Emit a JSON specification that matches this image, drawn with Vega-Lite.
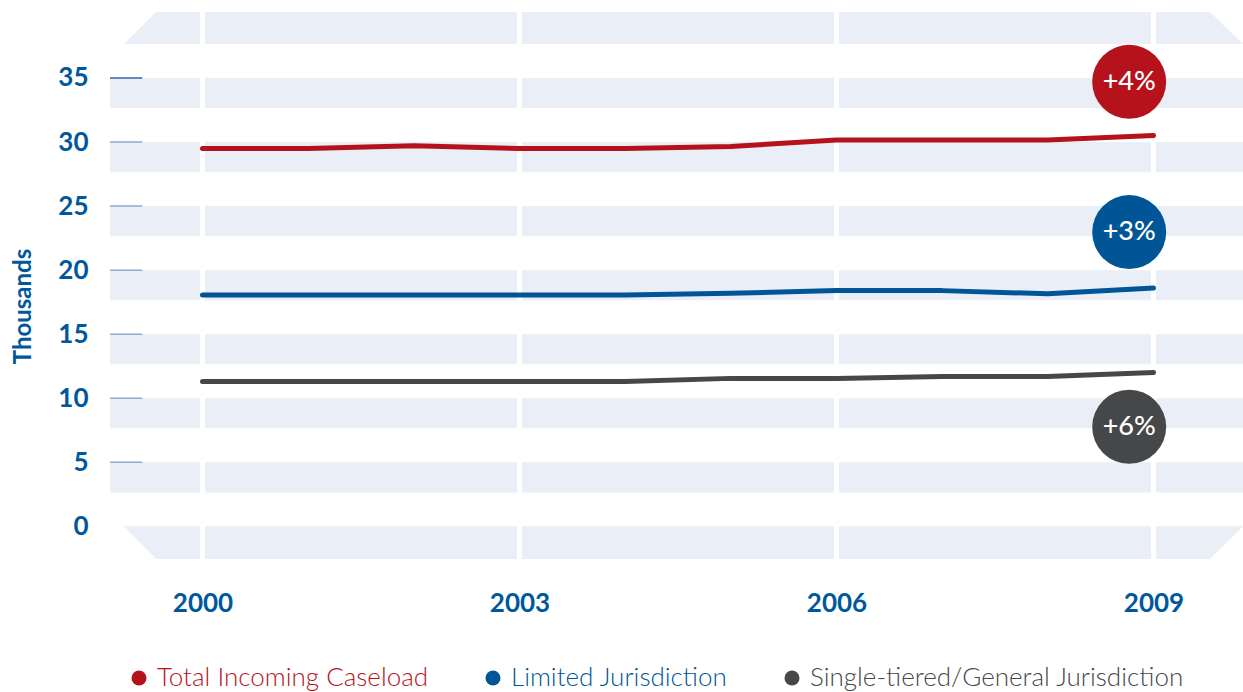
{
  "$schema": "https://vega.github.io/schema/vega-lite/v6.json",
  "width": 1133,
  "height": 547,
  "autosize": "none",
  "padding": {"left": 110, "top": 12, "right": 0, "bottom": 133},
  "background": "white",
  "config": {"view": {"stroke": null}, "font": "Lato"},
  "datasets": {
    "series": [
      {"year": 2000, "series": "Total Incoming Caseload", "value": 29.5},
      {"year": 2001, "series": "Total Incoming Caseload", "value": 29.5},
      {"year": 2002, "series": "Total Incoming Caseload", "value": 29.7},
      {"year": 2003, "series": "Total Incoming Caseload", "value": 29.5},
      {"year": 2004, "series": "Total Incoming Caseload", "value": 29.5},
      {"year": 2005, "series": "Total Incoming Caseload", "value": 29.65},
      {"year": 2006, "series": "Total Incoming Caseload", "value": 30.15},
      {"year": 2007, "series": "Total Incoming Caseload", "value": 30.15},
      {"year": 2008, "series": "Total Incoming Caseload", "value": 30.15},
      {"year": 2009, "series": "Total Incoming Caseload", "value": 30.5},
      {"year": 2000, "series": "Limited Jurisdiction", "value": 18.05},
      {"year": 2001, "series": "Limited Jurisdiction", "value": 18.05},
      {"year": 2002, "series": "Limited Jurisdiction", "value": 18.05},
      {"year": 2003, "series": "Limited Jurisdiction", "value": 18.05},
      {"year": 2004, "series": "Limited Jurisdiction", "value": 18.05},
      {"year": 2005, "series": "Limited Jurisdiction", "value": 18.2},
      {"year": 2006, "series": "Limited Jurisdiction", "value": 18.4},
      {"year": 2007, "series": "Limited Jurisdiction", "value": 18.4},
      {"year": 2008, "series": "Limited Jurisdiction", "value": 18.15},
      {"year": 2009, "series": "Limited Jurisdiction", "value": 18.6},
      {"year": 2000, "series": "Single-tiered/General Jurisdiction", "value": 11.3},
      {"year": 2001, "series": "Single-tiered/General Jurisdiction", "value": 11.3},
      {"year": 2002, "series": "Single-tiered/General Jurisdiction", "value": 11.3},
      {"year": 2003, "series": "Single-tiered/General Jurisdiction", "value": 11.3},
      {"year": 2004, "series": "Single-tiered/General Jurisdiction", "value": 11.3},
      {"year": 2005, "series": "Single-tiered/General Jurisdiction", "value": 11.55},
      {"year": 2006, "series": "Single-tiered/General Jurisdiction", "value": 11.55},
      {"year": 2007, "series": "Single-tiered/General Jurisdiction", "value": 11.7},
      {"year": 2008, "series": "Single-tiered/General Jurisdiction", "value": 11.7},
      {"year": 2009, "series": "Single-tiered/General Jurisdiction", "value": 12.0}
    ],
    "midBands": [
      {"band": "b35", "x0": 1999.1246, "x1": 2009.847, "lo": 32.65, "hi": 35},
      {"band": "b30", "x0": 1999.1246, "x1": 2009.847, "lo": 27.65, "hi": 30},
      {"band": "b25", "x0": 1999.1246, "x1": 2009.847, "lo": 22.65, "hi": 25},
      {"band": "b20", "x0": 1999.1246, "x1": 2009.847, "lo": 17.65, "hi": 20},
      {"band": "b15", "x0": 1999.1246, "x1": 2009.847, "lo": 12.65, "hi": 15},
      {"band": "b10", "x0": 1999.1246, "x1": 2009.847, "lo": 7.65, "hi": 10},
      {"band": "b05", "x0": 1999.1246, "x1": 2009.847, "lo": 2.65, "hi": 5}
    ],
    "edgeBands": [
      {"band": "b40", "x": 1999.257, "lo": 37.65, "hi": 37.65},
      {"band": "b40", "x": 1999.56, "lo": 37.65, "hi": 40.15},
      {"band": "b40", "x": 2009.535, "lo": 37.65, "hi": 40.15},
      {"band": "b40", "x": 2009.847, "lo": 37.65, "hi": 37.65},
      {"band": "b00", "x": 1999.257, "lo": 0, "hi": 0},
      {"band": "b00", "x": 1999.56, "lo": -2.55, "hi": 0},
      {"band": "b00", "x": 2009.535, "lo": -2.55, "hi": 0},
      {"band": "b00", "x": 2009.847, "lo": 0, "hi": 0}
    ],
    "gridYears": [{"year": 2000}, {"year": 2003}, {"year": 2006}, {"year": 2009}],
    "yticks": [{"v": 5}, {"v": 10}, {"v": 15}, {"v": 20}, {"v": 25}, {"v": 30}, {"v": 35}],
    "badges": [
      {"series": "Total Incoming Caseload", "label": "+4%", "year": 2008.77, "value": 34.7},
      {"series": "Limited Jurisdiction", "label": "+3%", "year": 2008.77, "value": 22.97},
      {"series": "Single-tiered/General Jurisdiction", "label": "+6%", "year": 2008.77, "value": 7.77}
    ]
  },
  "resolve": {"legend": {"color": "independent"}},
  "layer": [
    {
      "data": {"name": "midBands"},
      "mark": {"type": "rect", "color": "#eaeff7"},
      "encoding": {
        "x": {"field": "x0", "type": "quantitative", "scale": {"domain": [1999.1246, 2009.847], "nice": false, "zero": false},
          "axis": {"values": [2000, 2003, 2006, 2009], "format": "d", "labelFontSize": 26, "labelFontWeight": "bold", "labelColor": "#00589c", "labelFont": "Lato", "domain": false, "ticks": false, "grid": false, "labelPadding": 31, "title": null}},
        "x2": {"field": "x1"},
        "y": {"field": "hi", "type": "quantitative", "scale": {"domain": [-2.55, 40.15], "nice": false, "zero": false},
          "axis": {"values": [0, 5, 10, 15, 20, 25, 30, 35], "labelFontSize": 26, "labelFontWeight": "bold", "labelColor": "#00589c", "labelFont": "Lato", "domain": false, "ticks": false, "grid": false, "labelPadding": 22, "title": "Thousands", "titleFontSize": 24, "titleFontWeight": "bold", "titleColor": "#00589c", "titleFont": "Lato", "titlePadding": 22, "titleY": 294}},
        "y2": {"field": "lo"}
      }
    },
    {
      "data": {"name": "edgeBands"},
      "mark": {"type": "area", "color": "#eaeff7"},
      "encoding": {
        "x": {"field": "x", "type": "quantitative"},
        "y": {"field": "hi", "type": "quantitative"},
        "y2": {"field": "lo"},
        "detail": {"field": "band", "type": "nominal"}
      }
    },
    {
      "data": {"name": "gridYears"},
      "mark": {"type": "rule", "color": "white", "strokeWidth": 5},
      "encoding": {
        "x": {"field": "year", "type": "quantitative"}
      }
    },
    {
      "data": {"name": "yticks"},
      "mark": {"type": "rule", "strokeWidth": 1.5},
      "encoding": {
        "x": {"datum": 1999.1246, "type": "quantitative"},
        "x2": {"datum": 1999.43},
        "y": {"field": "v", "type": "quantitative"},
        "color": {"condition": {"test": "datum.v == 35", "value": "#2a68a8"}, "value": "#8ea9d3"}
      }
    },
    {
      "mark": {"type": "rule", "strokeWidth": 1.5, "color": "#8ea9d3"},
      "encoding": {
        "x": {"datum": 1999.257, "type": "quantitative"},
        "x2": {"datum": 1999.484},
        "y": {"datum": 0, "type": "quantitative"}
      }
    },
    {
      "data": {"name": "series"},
      "mark": {"type": "line", "strokeWidth": 5, "strokeCap": "round", "strokeJoin": "round"},
      "encoding": {
        "x": {"field": "year", "type": "quantitative"},
        "y": {"field": "value", "type": "quantitative"},
        "color": {"field": "series", "type": "nominal",
          "scale": {"domain": ["Total Incoming Caseload", "Limited Jurisdiction", "Single-tiered/General Jurisdiction"], "range": ["#b5121b", "#005596", "#464749"]},
          "legend": null}
      }
    },
    {
      "data": {"name": "badges"},
      "mark": {"type": "point", "filled": true, "opacity": 1, "size": 5476, "shape": "circle"},
      "encoding": {
        "x": {"field": "year", "type": "quantitative"},
        "y": {"field": "value", "type": "quantitative"},
        "color": {"field": "series", "type": "nominal",
          "legend": {"orient": "bottom", "direction": "horizontal", "title": null, "symbolType": "circle", "symbolSize": 225, "symbolStrokeWidth": 0, "labelFontSize": 26, "labelFont": "Lato", "labelFontWeight": 300, "labelOffset": 5, "columnPadding": 51, "offset": 33, "padding": 16, "labelLimit": 800,
            "labelColor": {"expr": "scale('color', datum.value)"}}}
      }
    },
    {
      "data": {"name": "badges"},
      "mark": {"type": "text", "color": "white", "fontSize": 27, "font": "Lato", "fontWeight": 500, "align": "center", "baseline": "middle"},
      "encoding": {
        "x": {"field": "year", "type": "quantitative"},
        "y": {"field": "value", "type": "quantitative"},
        "text": {"field": "label"}
      }
    }
  ]
}
